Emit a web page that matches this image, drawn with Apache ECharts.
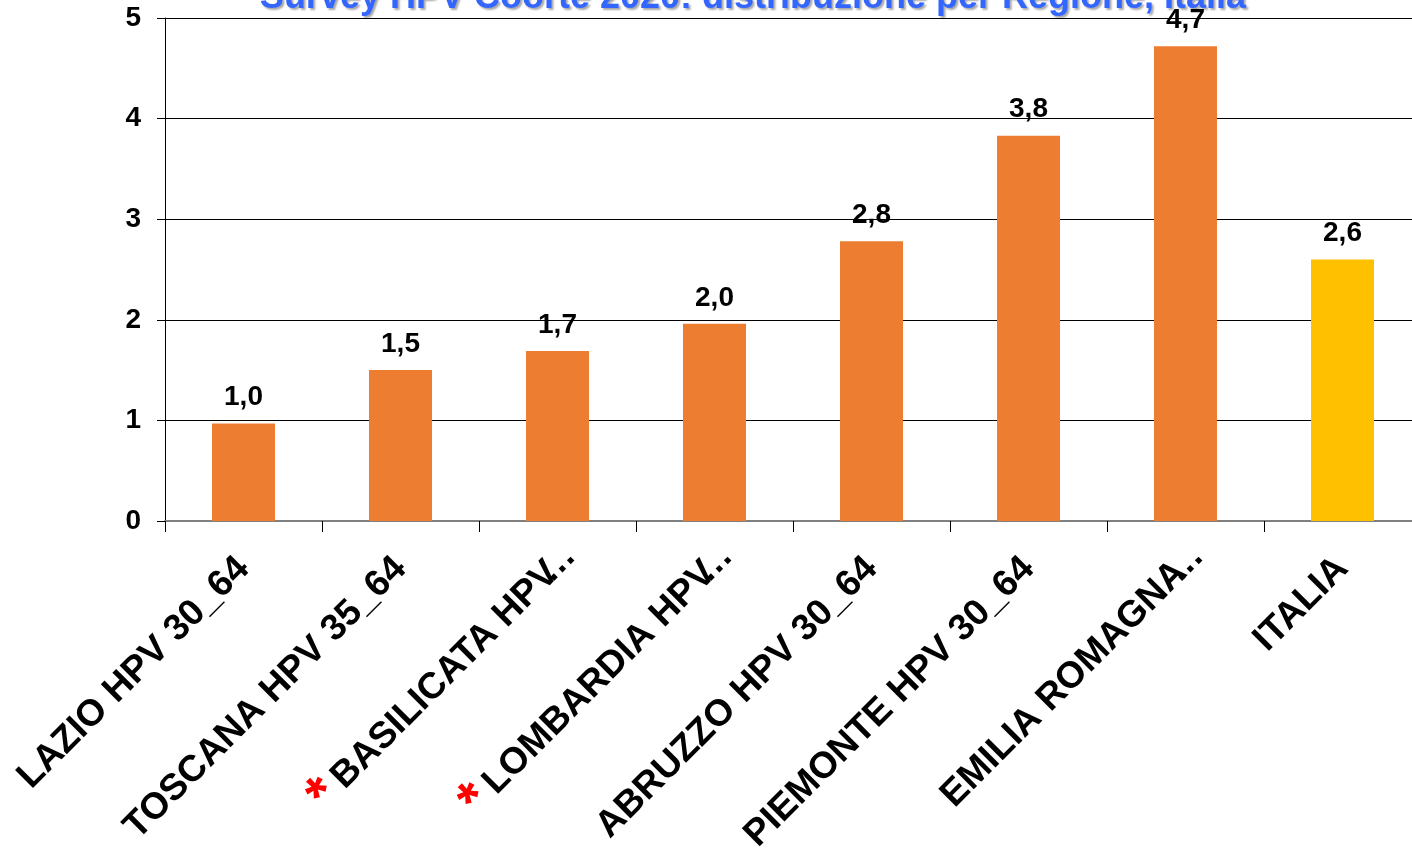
<!DOCTYPE html>
<html>
<head>
<meta charset="utf-8">
<script src="https://cdn.jsdelivr.net/npm/echarts@6/dist/echarts.min.js"></script>
<style>
  html, body { margin: 0; padding: 0; background: #fff; }
  #main { width: 1412px; height: 853px; }
</style>
</head>
<body>
<div id="main"></div>
<script>
// categories as shown on the axis (long names are cut with … in the source)
const categories = [
  "LAZIO HPV 30_64",
  "TOSCANA HPV 35_64",
  "*BASILICATA HPV…",
  "*LOMBARDIA HPV…",
  "ABRUZZO HPV 30_64",
  "PIEMONTE HPV 30_64",
  "EMILIA ROMAGNA…",
  "ITALIA"
];
const values = [0.97, 1.50, 1.69, 1.96, 2.78, 3.83, 4.72, 2.60];
const yTicks = [0, 1, 2, 3, 4, 5];

const FONT = "'Liberation Sans', Arial, sans-serif";
const chart = echarts.init(document.getElementById("main"));

// '*' prefix -> red star, trailing '…' hangs past the tick like in the source
function catLabel(v) {
  let s = v, head = "", tail = "";
  if (s.charAt(0) === "*") { head = "{star|*}"; s = s.slice(1); }
  if (s.slice(-1) === "…") { tail = "{e|…}"; s = s.slice(0, -1); }
  return head + "{b|" + s + "}" + tail;
}

const option = {
  backgroundColor: "#fff",
  animation: false,
  title: {
    text: "Survey HPV Coorte 2020: distribuzione per Regione, Italia",
    left: 748,
    textAlign: "center",
    top: -25,
    textStyle: {
      color: "#3366FF",
      fontSize: 36,
      fontWeight: "bold",
      fontFamily: FONT,
      textShadowColor: "rgba(0,0,0,0.35)",
      textShadowBlur: 2,
      textShadowOffsetX: 2,
      textShadowOffsetY: 2
    }
  },
  // plot area runs a little past the right edge of the picture
  grid: {
    left: 165, width: 1256, top: 18, bottom: 332,
    containLabel: false, outerBoundsMode: "none"
  },
  xAxis: {
    type: "category",
    data: categories,
    axisLine: { show: true, lineStyle: { color: "#808080", width: 2 } },
    axisTick: { show: true, alignWithLabel: false, length: 11, lineStyle: { color: "#000", width: 1 } },
    axisLabel: {
      interval: 0,
      rotate: 45,
      margin: 42,
      color: "#000",
      fontSize: 37,
      fontWeight: "bold",
      fontFamily: FONT,
      formatter: catLabel,
      rich: {
        star: { color: "#FF0000", fontSize: 56, lineHeight: 37, fontWeight: "bold", fontFamily: FONT, padding: [0, 8, 0, 0] },
        b: { color: "#000", fontSize: 37, lineHeight: 37, fontWeight: "bold", fontFamily: FONT },
        e: { color: "#000", fontSize: 37, lineHeight: 37, fontWeight: "bold", fontFamily: FONT,
             width: 1, align: "left", overflow: "none", padding: [0, 0, 0, 5] }
      }
    }
  },
  yAxis: {
    type: "value",
    min: yTicks[0],
    max: yTicks[yTicks.length - 1],
    interval: 1,
    axisLine: { show: true, lineStyle: { color: "#000", width: 1 } },
    axisTick: { show: true, length: 8, lineStyle: { color: "#000" } },
    splitLine: { show: true, lineStyle: { color: "#000", width: 1 } },
    axisLabel: {
      margin: 24,
      color: "#000",
      fontSize: 28,
      fontWeight: "bold",
      fontFamily: FONT
    }
  },
  series: [{
    type: "bar",
    barWidth: 63,
    data: values.map(function (v, i) {
      return {
        value: v,
        itemStyle: { color: i === values.length - 1 ? "#FFC000" : "#ED7D31" }
      };
    }),
    label: {
      show: true,
      position: "top",
      distance: 12,
      color: "#000",
      fontSize: 28,
      fontWeight: "bold",
      fontFamily: FONT,
      formatter: function (p) { return p.value.toFixed(1).replace(".", ","); }
    }
  }]
};

chart.setOption(option);
</script>
</body>
</html>
